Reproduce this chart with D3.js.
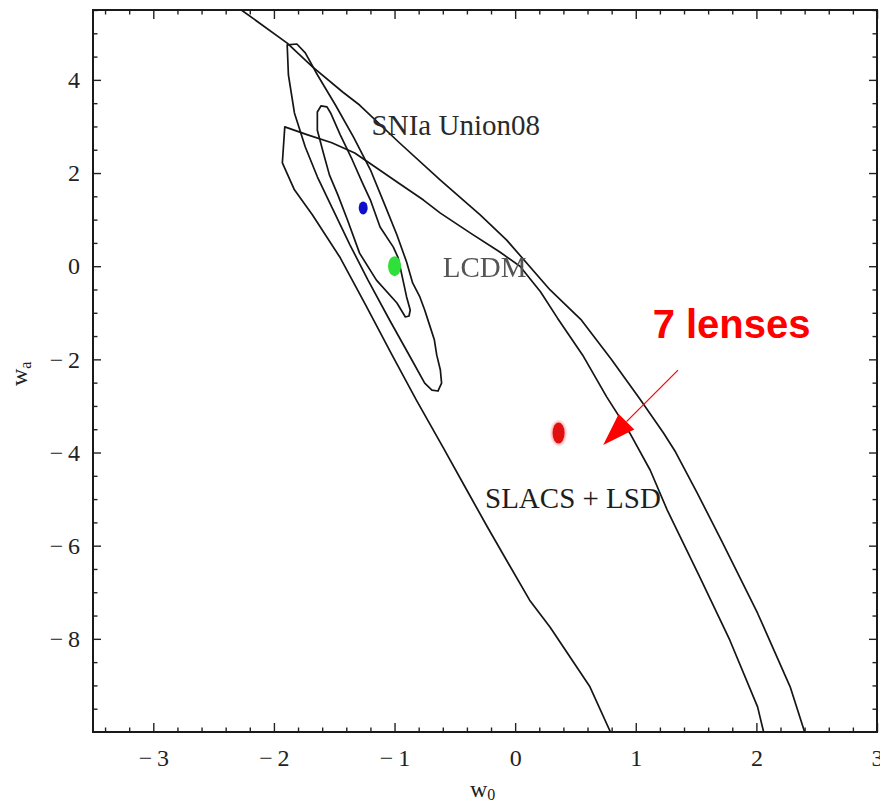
<!DOCTYPE html>
<html>
<head>
<meta charset="utf-8">
<script src="https://cdn.jsdelivr.net/npm/d3@7"></script>
<style>
  html, body { margin: 0; padding: 0; background: #fff; }
  svg { display: block; }
</style>
</head>
<body>
<svg id="chart" width="880" height="805"></svg>
<script>
// ---- axis ranges and ticks (w0 horizontal, wa vertical) ----
const w0Domain = [-3.5, 3];
const waDomain = [-10, 5.5];
const w0Ticks = [-3, -2, -1, 0, 1, 2, 3];
const w0TickLabels = ["\u2212\u20093", "\u2212\u20092", "\u2212\u20091", "0", "1", "2", "3"];
const waTicks = [-8, -6, -4, -2, 0, 2, 4];
const waTickLabels = ["\u2212\u20098", "\u2212\u20096", "\u2212\u20094", "\u2212\u20092", "0", "2", "4"];
const w0MinorStep = 0.2;
const waMinorStep = 0.5;

// ---- SNIa Union08 confidence contours (closed) ----
const sniaInner = [
  [-1.64, 3.31], [-1.61, 3.44], [-1.56, 3.42], [-1.53, 3.29], [-1.45, 2.82], [-1.35, 2.28],
  [-1.27, 1.81], [-1.20, 1.42], [-1.12, 0.84], [-1.01, 0.41], [-0.97, 0.18], [-0.93, -0.30],
  [-0.90, -0.66], [-0.87, -0.94], [-0.88, -1.07], [-0.91, -1.09], [-0.98, -0.79], [-1.15, -0.30],
  [-1.29, 0.28], [-1.39, 0.99], [-1.47, 1.53], [-1.54, 1.96], [-1.59, 2.43], [-1.64, 2.92]
];
const sniaOuter = [
  [-1.89, 4.75], [-1.81, 4.77], [-1.74, 4.58], [-1.64, 4.11], [-1.49, 3.46], [-1.34, 2.77],
  [-1.20, 2.07], [-1.08, 1.31], [-0.98, 0.67], [-0.90, 0.09], [-0.85, -0.36], [-0.79, -0.66],
  [-0.75, -0.94], [-0.71, -1.26], [-0.67, -1.58], [-0.65, -1.91], [-0.62, -2.23], [-0.61, -2.51],
  [-0.64, -2.68], [-0.69, -2.66], [-0.75, -2.51], [-0.87, -1.95], [-1.04, -1.16], [-1.22, -0.30],
  [-1.37, 0.46], [-1.52, 1.27], [-1.64, 1.92], [-1.74, 2.56], [-1.83, 3.29], [-1.88, 4.11]
];

// ---- SLACS + LSD confidence contours (open at the frame) ----
const slacsInner = [
  [0.79, -10.0], [0.62, -9.03], [0.29, -7.75], [0.12, -7.17], [-0.23, -5.60], [-0.40, -4.81],
  [-0.60, -3.88], [-0.82, -2.87], [-1.02, -1.91], [-1.24, -0.83], [-1.45, 0.18],
  [-1.68, 1.10], [-1.83, 1.64], [-1.93, 2.22], [-1.91, 2.99],
  [-1.72, 2.82], [-1.52, 2.65], [-1.33, 2.43], [-1.16, 2.13], [-0.97, 1.79], [-0.76, 1.42],
  [-0.62, 1.14], [-0.37, 0.71], [-0.13, 0.31], [0.04, 0.00], [0.21, -0.55], [0.35, -1.11],
  [0.56, -1.91], [0.76, -2.81], [0.95, -3.58], [1.12, -4.38], [1.26, -5.23], [1.53, -6.67],
  [1.78, -8.03], [2.01, -9.46], [2.06, -10.0]
];
const slacsOuter = [
  [-2.27, 5.5], [-1.89, 4.79], [-1.68, 4.28], [-1.43, 3.74], [-1.29, 3.46], [-0.96, 2.65],
  [-0.62, 1.85], [-0.29, 1.10], [-0.07, 0.56], [0.29, -0.51], [0.55, -1.16], [0.80, -2.01],
  [1.04, -2.87], [1.23, -3.58], [1.33, -3.99], [1.51, -4.87], [1.72, -5.94], [2.01, -7.45],
  [2.28, -9.03], [2.40, -10.0]
];

// ---- best-fit points: SNIa, LCDM, lenses ----
const bestW0 = [-1.26, -1.0, 0.36];
const bestWa = [1.25, 0.0, -3.58];

// ---- text labels placed in data coordinates ----
const labelText = ["SNIa Union08", "LCDM", "SLACS + LSD"];
const labelW0 = [-1.19, -0.60, -0.25];
const labelWa = [2.82, -0.23, -5.19];
const noteText = "7 lenses";
const noteW0 = 1.14, noteWa = -1.54;
const arrowFrom = [1.35, -2.23];
const arrowTo = [0.73, -3.84];

// ---- layout ----
const frame = { left: 93, right: 877, top: 10, bottom: 732 };
const svg = d3.select("#chart");

const x = d3.scaleLinear().domain(w0Domain).range([frame.left, frame.right]);
const y = d3.scaleLinear().domain(waDomain).range([frame.bottom, frame.top]);

const serif = '"Liberation Serif", "Times New Roman", serif';

const defs = svg.append("defs");
defs.append("clipPath").attr("id", "plotClip")
  .append("rect")
  .attr("x", frame.left).attr("y", frame.top)
  .attr("width", frame.right - frame.left).attr("height", frame.bottom - frame.top);

defs.append("filter").attr("id", "soft")
  .attr("x", "-50%").attr("y", "-50%").attr("width", "200%").attr("height", "200%")
  .append("feGaussianBlur").attr("stdDeviation", 1.2);

defs.append("filter").attr("id", "ghost")
  .append("feGaussianBlur").attr("stdDeviation", 0.5);

// ---- axes: inward ticks on all four sides ----
const minorW0 = d3.range(-3.4, 3.001, w0MinorStep).map(v => +v.toFixed(2)).filter(v => !w0Ticks.includes(v));
const minorWa = d3.range(-9.5, 5.501, waMinorStep).map(v => +v.toFixed(2)).filter(v => !waTicks.includes(v));

function styleAxis(g) {
  g.select(".domain").remove();
  g.selectAll(".tick line").attr("stroke", "#222").attr("stroke-width", 1.4);
}

svg.append("g").attr("transform", `translate(0,${frame.bottom})`)
  .call(d3.axisBottom(x).tickValues(w0Ticks).tickSize(-9).tickPadding(17)
    .tickFormat((d, i) => w0TickLabels[i]))
  .call(styleAxis);
svg.append("g").attr("transform", `translate(0,${frame.bottom})`)
  .call(d3.axisBottom(x).tickValues(minorW0).tickSize(-4.5).tickFormat(""))
  .call(styleAxis);
svg.append("g").attr("transform", `translate(0,${frame.top})`)
  .call(d3.axisTop(x).tickValues(w0Ticks).tickSize(-9).tickFormat(""))
  .call(styleAxis);
svg.append("g").attr("transform", `translate(0,${frame.top})`)
  .call(d3.axisTop(x).tickValues(minorW0).tickSize(-4.5).tickFormat(""))
  .call(styleAxis);

svg.append("g").attr("transform", `translate(${frame.left},0)`)
  .call(d3.axisLeft(y).tickValues(waTicks).tickSize(-8).tickPadding(13)
    .tickFormat((d, i) => waTickLabels[i]))
  .call(styleAxis);
svg.append("g").attr("transform", `translate(${frame.left},0)`)
  .call(d3.axisLeft(y).tickValues(minorWa).tickSize(-4.5).tickFormat(""))
  .call(styleAxis);
svg.append("g").attr("transform", `translate(${frame.right},0)`)
  .call(d3.axisRight(y).tickValues(waTicks).tickSize(-8).tickFormat(""))
  .call(styleAxis);
svg.append("g").attr("transform", `translate(${frame.right},0)`)
  .call(d3.axisRight(y).tickValues(minorWa).tickSize(-4.5).tickFormat(""))
  .call(styleAxis);

svg.selectAll(".tick text").attr("font-family", serif).attr("font-size", 24).attr("fill", "#222");

// frame
svg.append("rect")
  .attr("x", frame.left).attr("y", frame.top)
  .attr("width", frame.right - frame.left).attr("height", frame.bottom - frame.top)
  .attr("fill", "none").attr("stroke", "#1a1a1a").attr("stroke-width", 2);

// ---- contours ----
const plot = svg.append("g").attr("clip-path", "url(#plotClip)");
const open = d3.line().x(d => x(d[0])).y(d => y(d[1]));
const closed = d3.line().x(d => x(d[0])).y(d => y(d[1])).curve(d3.curveLinearClosed);

[[slacsOuter, open], [slacsInner, open], [sniaOuter, closed], [sniaInner, closed]]
  .forEach(([pts, gen]) => {
    plot.append("path")
      .attr("d", gen(pts))
      .attr("fill", "none")
      .attr("stroke", "#151515")
      .attr("stroke-width", 1.7)
      .attr("stroke-linejoin", "round");
  });

// ---- best-fit points ----
const dotColor = ["#1010c8", "#2fe03a", "#e01010"];
const dotRx = [4.5, 6.5, 6];
const dotRy = [6.5, 10, 10.5];
bestW0.forEach((w0, i) => {
  if (i === 2) {
    plot.append("ellipse")
      .attr("cx", x(w0)).attr("cy", y(bestWa[i]))
      .attr("rx", dotRx[i] + 1.5).attr("ry", dotRy[i] + 1.5)
      .attr("fill", "#ff6060").attr("opacity", 0.55).attr("filter", "url(#soft)");
  }
  plot.append("ellipse")
    .attr("cx", x(w0)).attr("cy", y(bestWa[i]))
    .attr("rx", dotRx[i]).attr("ry", dotRy[i])
    .attr("fill", dotColor[i]);
});

// ---- contour labels ----
const labelFill = ["#2a2a2a", "#555", "#1e1e1e"];
labelText.forEach((t, i) => {
  svg.append("text")
    .attr("x", x(labelW0[i])).attr("y", y(labelWa[i]))
    .attr("font-family", serif).attr("font-size", 29)
    .attr("fill", labelFill[i])
    .attr("filter", i === 1 ? "url(#ghost)" : null)
    .text(t);
});

// ---- "7 lenses" annotation with arrow ----
svg.append("text")
  .attr("x", x(noteW0)).attr("y", y(noteWa))
  .attr("font-family", '"Liberation Sans", Arial, sans-serif')
  .attr("font-weight", "bold").attr("font-size", 40)
  .attr("fill", "#ff0000")
  .text(noteText);

const ax0 = x(arrowFrom[0]), ay0 = y(arrowFrom[1]);
const ax1 = x(arrowTo[0]), ay1 = y(arrowTo[1]);
const ang = Math.atan2(ay1 - ay0, ax1 - ax0);
const headLen = 33, headHalf = 11;
const bx = ax1 - headLen * Math.cos(ang), by = ay1 - headLen * Math.sin(ang);
svg.append("line")
  .attr("x1", ax0).attr("y1", ay0).attr("x2", bx).attr("y2", by)
  .attr("stroke", "#ff0000").attr("stroke-width", 1.2);
svg.append("path")
  .attr("d", `M${ax1},${ay1}L${bx - headHalf * Math.sin(ang)},${by + headHalf * Math.cos(ang)}L${bx + headHalf * Math.sin(ang)},${by - headHalf * Math.cos(ang)}Z`)
  .attr("fill", "#ff0000");

// ---- axis titles ----
const xt = svg.append("text")
  .attr("x", 470).attr("y", 797)
  .attr("font-family", serif).attr("font-size", 24).attr("fill", "#222");
xt.append("tspan").text("w");
xt.append("tspan").attr("font-size", 16).attr("dy", 3).text("0");

const yt = svg.append("text")
  .attr("transform", "translate(27,386) rotate(-90)")
  .attr("font-family", serif).attr("font-size", 24).attr("fill", "#222");
yt.append("tspan").text("w");
yt.append("tspan").attr("font-size", 16).attr("dy", 4).text("a");
</script>
</body>
</html>
